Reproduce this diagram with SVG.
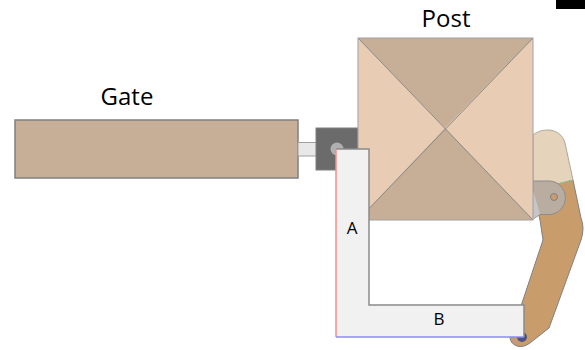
<svg xmlns="http://www.w3.org/2000/svg" width="585" height="350" viewBox="0 0 585 350">
<style>
.o{stroke:#808080;stroke-width:1.5}
.t{font-family:"Open Sans","Noto Sans",sans-serif;fill:#000}
</style>
<rect width="585" height="350" fill="#fff"/>
<rect x="556" y="0" width="29" height="9" fill="#000"/>
<g id="gate">
<rect class="o" x="15" y="120" width="283" height="58" fill="#c7af97"/>
<text class="t" x="127" y="105" font-size="24" text-anchor="middle">Gate</text>
</g>
<g id="latch">
<rect x="298" y="142.500" width="19" height="13.500" fill="#e8e8e8" stroke="#a0a0a0"/>
<rect x="316" y="128" width="42" height="42" fill="#6b6b6b" stroke="#808080"/>
<circle cx="337" cy="149" r="6.500" fill="#b0b0b0"/>
</g>
<g id="arm">
<path d="M540 220L533 190L573 180L581 218Q585 228 581 240L549 328L530 343Q523 348 517 346Q511 344 510 338L522 303L543 240Z" fill="#c99d6b" stroke="#808080"/>
<path d="M533 135C538 131 543 130 548 130C556 130 563 135 565 143L573 180L533 190Z" fill="#e5d3bb" stroke="#b0a898"/>
<path d="M533 190L573 180" fill="none" stroke="#7fce7f" stroke-width="1.200" stroke-dasharray="4 3"/>
<path d="M533 181H550A16.800 16.800 0 0 1 550 214.500H540L533 219Z" fill="#b8ada0" stroke="#8c8c8c"/>
<path d="M533 190L540 214L533 219Z" fill="#c6c6c8"/>
<circle cx="554" cy="197" r="3.500" fill="#c99d6b" stroke="#808080"/>
<circle cx="522" cy="337" r="5" fill="#4d5280"/>
</g>
<g id="post">
<rect x="358" y="38" width="175" height="182" fill="#e8ccb4"/>
<path d="M358 38H533L445 128Z" fill="#c7af97"/>
<path d="M358 220H533L445 128Z" fill="#c7af97"/>
<path d="M358 38L533 220M533 38L358 220" fill="none" stroke="#8a8a8a"/>
<rect x="358" y="38" width="175" height="182" fill="none" stroke="#a0a0a0"/>
<text class="t" x="446" y="27" font-size="24" text-anchor="middle">Post</text>
</g>
<g id="bracket">
<path d="M336 149H369V305H524V337H336Z" fill="#f1f1f1"/>
<path d="M336 149H369V305H524V337" fill="none" stroke="#8a8a8a" stroke-width="1.500"/>
<path d="M336 149V337" fill="none" stroke="#ff8a8a" stroke-width="1.500"/>
<path d="M336 337H524" fill="none" stroke="#8a8aff" stroke-width="1.500"/>
<text class="t" x="352" y="234" font-size="17" text-anchor="middle">A</text>
<text class="t" x="439" y="325" font-size="17" text-anchor="middle">B</text>
</g>
</svg>
